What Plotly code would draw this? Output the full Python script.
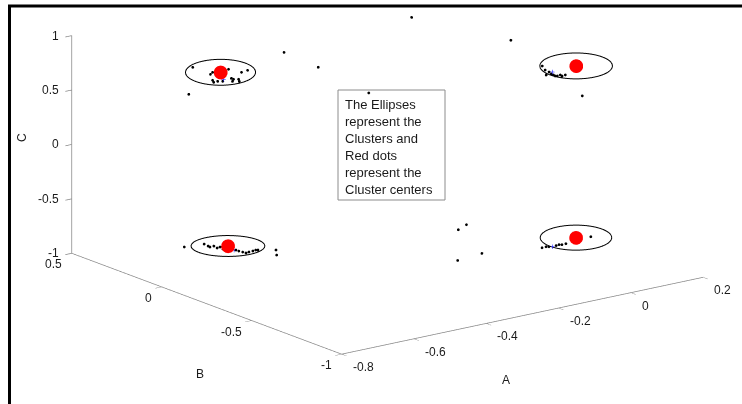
import numpy as np
import plotly.graph_objects as go

# ---------------- data ----------------
center_A = [-0.608, 0.049, -0.593, 0.060]
center_B = [0.059, -0.597, 0.048, -0.574]
center_C = [0.800, 0.800, -0.800, -0.800]

mean_A = [-0.603, 0.007, -0.582, 0.018]
mean_B = [0.053, -0.549, 0.036, -0.526]
mean_C = [0.736, 0.745, -0.837, -0.883]

ell_rA = [0.062, 0.064, 0.065, 0.063]
ell_rB = [-0.070, -0.073, -0.074, -0.072]
ell_rC = [0.119, 0.119, 0.096, 0.115]

pts_A = [-0.657, -0.626, -0.622, -0.594, -0.571, -0.560, -0.622, -0.613, -0.589, -0.585,
         -0.576, -0.575, -0.620, -0.604, -0.587, -0.664,
         -0.011, -0.006, -0.004, 0.001, 0.005, 0.009, 0.012, 0.016, 0.021, 0.024, 0.030, 0.060,
         -0.670, -0.635, -0.628, -0.625, -0.618, -0.612, -0.607, -0.602, -0.579, -0.574,
         -0.567, -0.561, -0.556, -0.549, -0.544, -0.540, -0.508, -0.507,
         0.086, 0.042, 0.000, 0.007, 0.012, 0.025, 0.030, 0.035,
         -0.226, -0.264, -0.334, -0.410,
         -0.089, 0.055, -0.402, -0.412, -0.444]
pts_B = [0.115, 0.079, 0.075, 0.043, 0.017, 0.005, 0.075, 0.065, 0.037, 0.033,
         0.023, 0.021, 0.073, 0.055, 0.035, 0.123,
         -0.529, -0.535, -0.537, -0.543, -0.547, -0.551, -0.555, -0.559, -0.565, -0.569, -0.575, -0.609,
         0.136, 0.096, 0.088, 0.084, 0.076, 0.070, 0.064, 0.058, 0.032, 0.026,
         0.018, 0.012, 0.006, -0.002, -0.008, -0.012, -0.048, -0.050,
         -0.604, -0.554, -0.506, -0.514, -0.520, -0.534, -0.540, -0.546,
         -0.540, -0.571, -0.843, -0.861,
         0.040, -0.222, 0.120, -0.090, -0.435]
pts_C = [0.846, 0.782, 0.800, 0.828, 0.800, 0.818, 0.727, 0.717, 0.745, 0.736,
         0.736, 0.717, 0.708, 0.717, 0.717, 0.598,
         0.800, 0.763, 0.717, 0.745, 0.727, 0.717, 0.708, 0.708, 0.717, 0.708, 0.717, 0.525,
         -0.809, -0.782, -0.800, -0.809, -0.800, -0.818, -0.809, -0.828, -0.837, -0.846,
         -0.855, -0.864, -0.855, -0.846, -0.837, -0.837, -0.837, -0.883,
         -0.791, -0.855, -0.892, -0.883, -0.883, -0.873, -0.864, -0.864,
         -0.500, -0.500, -0.500, -0.500,
         0.950, 0.800, 0.800, 0.800, 0.800]

A_ticks = [-0.8, -0.6, -0.4, -0.2, 0, 0.2]
A_labels = ["-0.8", "-0.6", "-0.4", "-0.2", "0", "0.2"]
B_ticks = [-1, -0.5, 0, 0.5]
B_labels = ["-1", "-0.5", "0", "0.5"]
C_ticks = [-1, -0.5, 0, 0.5, 1]
C_labels = ["-1", "-0.5", "0", "0.5", "1"]

A_range = [-0.8, 0.2]
B_range = [-1, 0.5]
C_range = [-1, 1]

note_text = "The Ellipses<br>represent the<br>Clusters and<br>Red dots<br>represent the<br>Cluster centers"

# ---------------- figure ----------------
fig = go.Figure()

t = np.linspace(0, 2 * np.pi, 120)
for i in range(len(center_A)):
    fig.add_trace(go.Scatter3d(
        x=center_A[i] + ell_rA[i] * np.cos(t),
        y=center_B[i] + ell_rB[i] * np.cos(t),
        z=center_C[i] + ell_rC[i] * np.sin(t),
        mode="lines", line=dict(color="black", width=2), showlegend=False, hoverinfo="skip"))

fig.add_trace(go.Scatter3d(x=pts_A, y=pts_B, z=pts_C, mode="markers",
                           marker=dict(size=1.6, color="black", line=dict(width=0)), showlegend=False))
fig.add_trace(go.Scatter3d(x=mean_A, y=mean_B, z=mean_C, mode="markers",
                           marker=dict(size=2.5, color="blue", symbol="cross", line=dict(width=0)), showlegend=False))
fig.add_trace(go.Scatter3d(x=center_A, y=center_B, z=center_C, mode="markers",
                           marker=dict(size=8, color="red", line=dict(width=0)), showlegend=False))

axis_common = dict(showbackground=False, showgrid=False, zeroline=False, showspikes=False,
                   showline=True, linecolor="#858585", linewidth=1.5, ticks="outside",
                   tickcolor="#858585", ticklen=8, tickwidth=1.5, title=dict(text=""), showticklabels=False)

tick_font = dict(family="Liberation Sans, Arial", size=12, color="#1a1a1a")
scene_ann = []
for v, s in zip(A_ticks, A_labels):
    scene_ann.append(dict(x=v, y=B_range[0], z=C_range[0], text=s, showarrow=False,
                          xanchor="left", yanchor="middle", xshift=9, yshift=-13, font=tick_font))
for v, s in zip(B_ticks, B_labels):
    scene_ann.append(dict(x=A_range[0], y=v, z=C_range[0], text=s, showarrow=False,
                          xanchor="right", yanchor="middle", xshift=-8, yshift=-11, font=tick_font))
for v, s in zip(C_ticks, C_labels):
    scene_ann.append(dict(x=A_range[0], y=B_range[1], z=v, text=s, showarrow=False,
                          xanchor="right", yanchor="middle", xshift=-11, yshift=0, font=tick_font))

d = np.array([-0.5777, -0.7662, 0.2819])
k = 2.0
cam_c = np.array([-0.0652, 0.0492, -0.235])
eye = cam_c + k * d
fig.update_layout(
    width=742, height=404, margin=dict(l=0, r=0, t=0, b=0),
    paper_bgcolor="white",
    scene=dict(
        domain=dict(x=[0, 1.0], y=[0, 1.0]),
        xaxis=dict(range=A_range, tickvals=A_ticks, **axis_common),
        yaxis=dict(range=B_range, tickvals=B_ticks, **axis_common),
        zaxis=dict(range=C_range, tickvals=C_ticks, **axis_common),
        aspectmode="manual", aspectratio=dict(x=2.242, y=2.219, z=1.123),
        camera=dict(eye=dict(x=eye[0], y=eye[1], z=eye[2]), up=dict(x=0, y=0, z=1),
                    center=dict(x=cam_c[0], y=cam_c[1], z=cam_c[2]), projection=dict(type="orthographic")),
        annotations=scene_ann,
    ),
    annotations=[
        dict(text=note_text, x=0.462, y=0.765, xref="paper", yref="paper", xanchor="left", yanchor="top",
             align="left", showarrow=False, font=dict(family="Liberation Sans, Arial", size=13, color="#1a1a1a")),
        dict(text="A", x=512 / 742, y=1 - 389 / 404, xref="paper", yref="paper", showarrow=False,
             font=tick_font),
        dict(text="B", x=194 / 742, y=1 - 383 / 404, xref="paper", yref="paper", showarrow=False,
             font=tick_font),
        dict(text="C", x=13 / 742, y=1 - 138 / 404, xref="paper", yref="paper", showarrow=False, textangle=-90,
             font=tick_font),
    ],
    shapes=[
        dict(type="rect", xref="paper", yref="paper", x0=338 / 742, x1=445 / 742, y0=1 - 200 / 404, y1=1 - 90 / 404,
             line=dict(color="#8c8c8c", width=1), fillcolor="rgba(0,0,0,0)"),
        dict(type="line", xref="paper", yref="paper", x0=8 / 742, x1=1, y0=1 - 6 / 404, y1=1 - 6 / 404,
             line=dict(color="black", width=3)),
        dict(type="line", xref="paper", yref="paper", x0=9.5 / 742, x1=9.5 / 742, y0=0, y1=1 - 5 / 404,
             line=dict(color="black", width=3)),
    ],
)

fig.write_html("out.html", config={"displayModeBar": False},
               post_script="document.body.style.margin='0';")
